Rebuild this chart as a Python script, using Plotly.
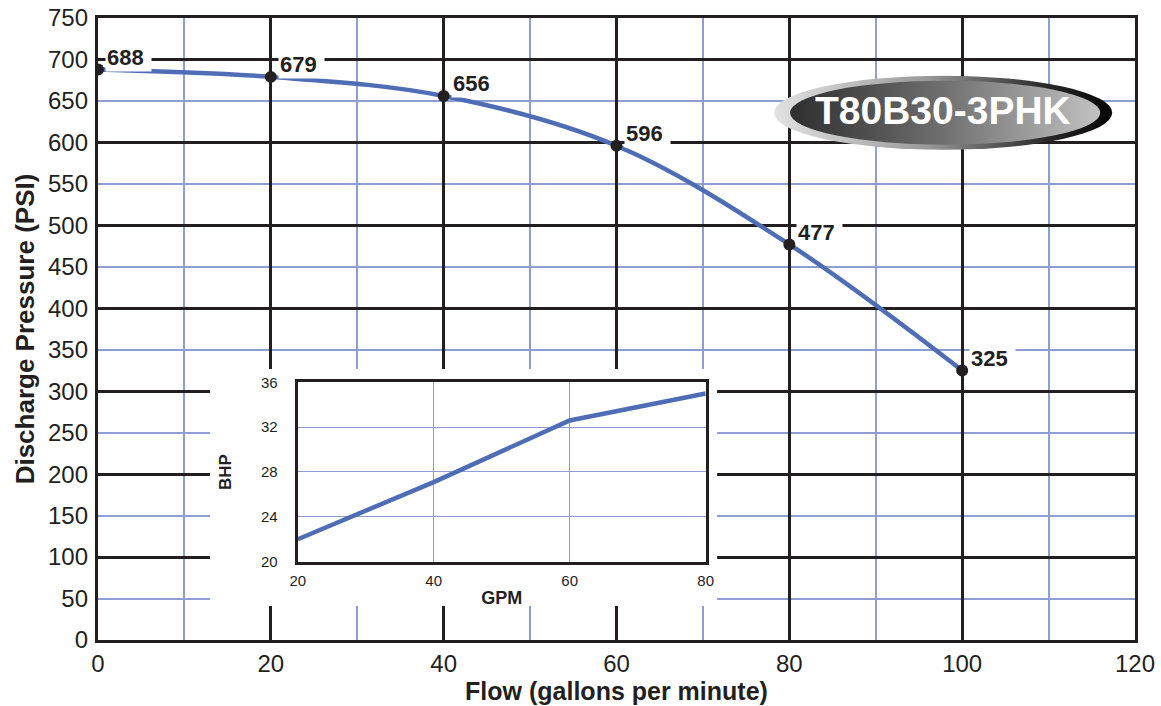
import base64
import plotly.graph_objects as go

# Pump performance: discharge pressure vs flow
flow_gpm = [0, 20, 40, 60, 80, 100]
pressure_psi = [688, 679, 656, 596, 477, 325]

# Brake horsepower vs flow (inset)
bhp_gpm = [20, 40, 60, 80]
bhp_values = [22.0, 27.1, 32.6, 35.0]

model_name = "T80B30-3PHK"

INK = "#231f20"
GRID_BLUE = "#8e9ed3"
CURVE_BLUE = "#4f6db5"
FONT = "Liberation Sans, Arial, Helvetica, sans-serif"

X_RANGE = [0, 120]
Y_RANGE = [0, 750]

fig = go.Figure()

fig.add_trace(go.Scatter(
    x=flow_gpm, y=pressure_psi,
    mode="lines+markers",
    line=dict(color=CURVE_BLUE, width=4.5, shape="spline", smoothing=1.0),
    marker=dict(color=INK, size=12),
    hoverinfo="skip", showlegend=False,
    xaxis="x", yaxis="y",
))

# transparent copy that carries the labelled pressure axis
fig.add_trace(go.Scatter(
    x=flow_gpm, y=pressure_psi,
    mode="lines", line=dict(width=0), opacity=0,
    hoverinfo="skip", showlegend=False,
    xaxis="x", yaxis="y3",
))

fig.add_trace(go.Scatter(
    x=bhp_gpm, y=bhp_values,
    mode="lines",
    line=dict(color=CURVE_BLUE, width=4.5),
    hoverinfo="skip", showlegend=False,
    xaxis="x2", yaxis="y2",
))

# value labels next to each pressure point
annotations = []
for fx, py in zip(flow_gpm, pressure_psi):
    annotations.append(dict(
        x=fx, y=py, xref="x", yref="y",
        text=f"<b>{py}</b>&nbsp;", showarrow=False,
        xanchor="left", yanchor="middle", xshift=7, yshift=12,
        font=dict(family=FONT, size=22, color=INK),
        bgcolor="white", borderpad=1,
    ))

# model badge text
annotations.append(dict(
    x=0.8149, y=0.852, xref="paper", yref="paper",
    text=f"<b>{model_name}</b>", showarrow=False,
    xanchor="center", yanchor="middle",
    font=dict(family=FONT, size=39, color="white"),
))

# badge background: two overlapping shaded ellipses
badge_svg = """<svg xmlns="http://www.w3.org/2000/svg" width="340" height="75" viewBox="0 0 340 75" preserveAspectRatio="none">
<defs>
<linearGradient id="o" x1="0" y1="0" x2="1" y2="0">
<stop offset="0" stop-color="#e2e2e2"/><stop offset="0.45" stop-color="#9a9a9a"/>
<stop offset="0.8" stop-color="#2a2a2a"/><stop offset="1" stop-color="#050505"/>
</linearGradient>
<linearGradient id="i" x1="0" y1="0" x2="1" y2="0">
<stop offset="0" stop-color="#2e2e2e"/><stop offset="0.5" stop-color="#707070"/>
<stop offset="1" stop-color="#c2c2c2"/>
</linearGradient>
</defs>
<ellipse cx="170" cy="37.5" rx="169" ry="37" fill="url(#o)"/>
<ellipse cx="172" cy="37.5" rx="155" ry="32" fill="url(#i)"/>
</svg>"""
badge_src = "data:image/svg+xml;base64," + base64.b64encode(badge_svg.encode()).decode()

# white panel behind the inset, as fractions of the main plot area
panel = dict(x0=0.108, x1=0.597, y0=0.0547, y1=0.4357)
def frac(rng, f):
    return rng[0] + f * (rng[1] - rng[0])

fig.update_layout(
    width=1161, height=706,
    margin=dict(l=98, r=26, t=18, b=66, autoexpand=False),
    paper_bgcolor="white", plot_bgcolor="white",
    font=dict(family=FONT, color=INK),
    annotations=annotations,
    images=[dict(
        source=badge_src, xref="paper", yref="paper",
        x=0.651, y=0.908, sizex=0.328, sizey=0.1206,
        xanchor="left", yanchor="top", sizing="stretch", layer="above",
    )],
    shapes=[dict(
        type="rect", xref="x", yref="y",
        x0=frac(X_RANGE, panel["x0"]), x1=frac(X_RANGE, panel["x1"]),
        y0=frac(Y_RANGE, panel["y0"]), y1=frac(Y_RANGE, panel["y1"]),
        fillcolor="white", line=dict(width=0), layer="between",
    )],
    xaxis=dict(
        range=X_RANGE, tick0=0, dtick=20, automargin=False,
        showgrid=True, gridcolor=INK, gridwidth=2.5,
        minor=dict(dtick=10, showgrid=True, gridcolor=GRID_BLUE, gridwidth=1.5),
        showline=True, mirror=True, linecolor=INK, linewidth=3,
        zeroline=False, ticks="", ticklabelstandoff=0,
        tickfont=dict(size=24, color=INK),
        title=dict(text="<b>Flow (gallons per minute)</b>", font=dict(size=25, color=INK), standoff=4),
    ),
    yaxis=dict(
        range=Y_RANGE, tick0=0, dtick=100, automargin=False,
        showgrid=True, gridcolor=INK, gridwidth=2.5,
        minor=dict(dtick=50, showgrid=True, gridcolor=GRID_BLUE, gridwidth=1.5),
        showline=True, mirror=True, linecolor=INK, linewidth=3,
        zeroline=False, ticks="", showticklabels=False,
    ),
    yaxis3=dict(
        overlaying="y", anchor="x", side="left", automargin=False,
        range=Y_RANGE, tick0=0, dtick=50,
        showgrid=False, zeroline=False, showline=False, ticks="",
        ticklabelstandoff=9,
        tickfont=dict(size=24, color=INK),
        title=dict(text="<b>Discharge Pressure (PSI)</b>", font=dict(size=26, color=INK), standoff=5),
    ),
    xaxis2=dict(
        domain=[0.1926, 0.586], anchor="y2", automargin=False,
        range=[20, 80], tick0=20, dtick=20,
        showgrid=True, gridcolor=GRID_BLUE, gridwidth=1.2,
        showline=True, mirror=True, linecolor=INK, linewidth=3,
        zeroline=False, ticks="", ticklabelstandoff=3,
        tickfont=dict(size=15, color=INK),
        title=dict(text="<b>GPM</b>", font=dict(size=18, color=INK), standoff=4),
    ),
    yaxis2=dict(
        domain=[0.1259, 0.4143], anchor="x2", automargin=False,
        range=[20, 36], tick0=20, dtick=4,
        showgrid=True, gridcolor=GRID_BLUE, gridwidth=1.2,
        showline=True, mirror=True, linecolor=INK, linewidth=3,
        zeroline=False, ticks="", ticklabelstandoff=14,
        tickfont=dict(size=15, color=INK),
        title=dict(text="<b>BHP</b>", font=dict(size=17, color=INK), standoff=26),
    ),
)

fig.write_html("out.html")
